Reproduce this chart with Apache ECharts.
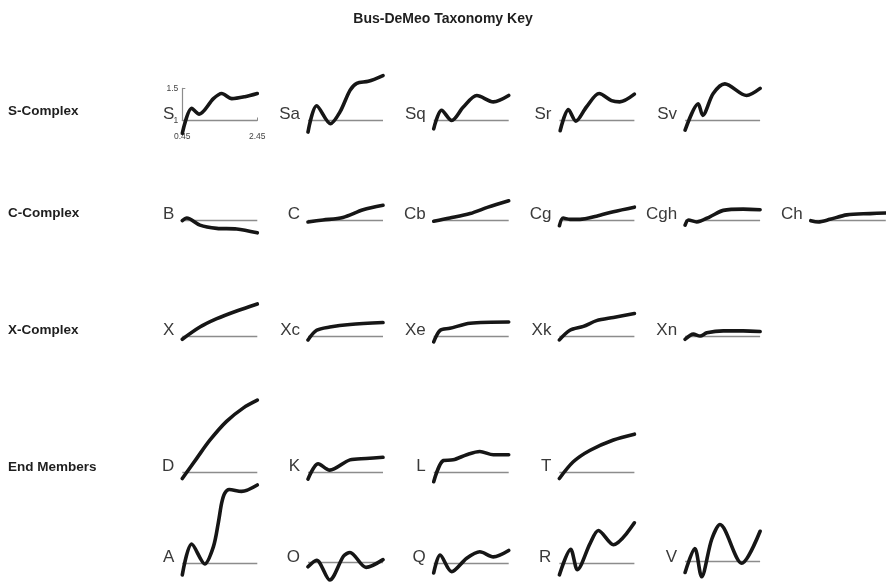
<!DOCTYPE html>
<html>
<head>
<meta charset="utf-8">
<title>Bus-DeMeo Taxonomy Key</title>
<script src="https://cdn.jsdelivr.net/npm/echarts@6/dist/echarts.min.js"></script>
<style>
  html, body { margin: 0; padding: 0; background: #fff; }
  #main { width: 886px; height: 586px; }
</style>
</head>
<body>
<div id="main"></div>
<script>
// spectra: [wavelength (um), reflectance normalised at 0.55 um]
var S   = [[0.45,0.80],[0.70,1.19],[0.90,1.10],[1.28,1.34],[1.50,1.42],[1.77,1.34],[2.12,1.37],[2.45,1.42]];
var Sa  = [[0.45,0.82],[0.68,1.23],[1.05,0.95],[1.30,1.13],[1.57,1.47],[1.75,1.58],[2.06,1.61],[2.45,1.70]];
var Sq  = [[0.45,0.87],[0.66,1.16],[0.93,1.00],[1.24,1.21],[1.60,1.39],[2.04,1.29],[2.45,1.39]];
var Sr  = [[0.47,0.84],[0.69,1.17],[0.89,0.99],[1.17,1.21],[1.51,1.42],[1.84,1.31],[2.06,1.29],[2.45,1.41]];
var Sv  = [[0.45,0.85],[0.80,1.26],[0.92,1.08],[1.20,1.42],[1.51,1.57],[2.09,1.39],[2.45,1.50]];

var B   = [[0.45,0.99],[0.57,1.03],[0.92,0.92],[1.37,0.87],[1.90,0.86],[2.45,0.80]];
var C   = [[0.45,0.97],[0.85,1.00],[1.38,1.04],[1.92,1.16],[2.45,1.23]];
var Cb  = [[0.45,0.98],[0.88,1.03],[1.42,1.10],[1.90,1.20],[2.45,1.30]];
var Cg  = [[0.45,0.91],[0.55,1.03],[0.73,1.01],[1.00,1.01],[1.44,1.06],[1.89,1.13],[2.45,1.20]];
var Cgh = [[0.45,0.92],[0.54,1.00],[0.76,0.97],[1.11,1.05],[1.47,1.15],[2.00,1.17],[2.45,1.16]];
var Ch  = [[0.45,0.99],[0.65,0.97],[0.96,1.01],[1.41,1.08],[2.03,1.10],[2.45,1.11]];

var X   = [[0.45,0.96],[0.92,1.15],[1.37,1.28],[1.90,1.40],[2.45,1.51]];
var Xc  = [[0.45,0.95],[0.68,1.10],[1.03,1.15],[1.57,1.19],[2.45,1.22]];
var Xe  = [[0.45,0.92],[0.62,1.10],[0.88,1.13],[1.42,1.21],[2.45,1.23]];
var Xk  = [[0.45,0.95],[0.73,1.10],[1.09,1.16],[1.44,1.25],[1.89,1.30],[2.45,1.36]];
var Xn  = [[0.45,0.96],[0.67,1.04],[0.85,1.01],[1.03,1.06],[1.47,1.09],[2.00,1.09],[2.45,1.08]];

var D   = [[0.45,0.91],[0.83,1.22],[1.19,1.51],[1.63,1.80],[2.08,2.01],[2.45,2.13]];
var K   = [[0.45,0.90],[0.72,1.14],[1.03,1.04],[1.57,1.20],[2.00,1.22],[2.45,1.24]];
var L   = [[0.45,0.86],[0.71,1.19],[0.97,1.20],[1.33,1.28],[1.68,1.33],[2.04,1.28],[2.45,1.28]];
var T   = [[0.45,0.91],[0.82,1.17],[1.27,1.35],[1.89,1.51],[2.45,1.60]];

var A   = [[0.45,0.82],[0.70,1.30],[1.05,0.99],[1.28,1.26],[1.41,1.63],[1.50,1.94],[1.58,2.09],[1.70,2.15],[2.03,2.12],[2.45,2.22]];
var O   = [[0.45,0.92],[0.68,1.03],[1.03,0.70],[1.40,1.10],[1.57,1.16],[2.00,0.91],[2.45,1.04]];
var Q   = [[0.45,0.85],[0.62,1.13],[0.93,0.87],[1.33,1.08],[1.68,1.18],[2.04,1.10],[2.45,1.20]];
var R   = [[0.45,0.82],[0.75,1.22],[0.93,0.90],[1.27,1.31],[1.49,1.51],[1.89,1.29],[2.45,1.63]];
var V   = [[0.45,0.82],[0.71,1.21],[0.89,0.75],[1.16,1.36],[1.38,1.60],[1.96,0.97],[2.45,1.49]];

var rowNames = ['S-Complex', 'C-Complex', 'X-Complex', 'End Members'];
var panelNames = [
  ['S', 'Sa', 'Sq', 'Sr', 'Sv'],
  ['B', 'C', 'Cb', 'Cg', 'Cgh', 'Ch'],
  ['X', 'Xc', 'Xe', 'Xk', 'Xn'],
  ['D', 'K', 'L', 'T'],
  ['A', 'O', 'Q', 'R', 'V']
];
var curves = {S:S, Sa:Sa, Sq:Sq, Sr:Sr, Sv:Sv, B:B, C:C, Cb:Cb, Cg:Cg, Cgh:Cgh, Ch:Ch,
  X:X, Xc:Xc, Xe:Xe, Xk:Xk, Xn:Xn, D:D, K:K, L:L, T:T, A:A, O:O, Q:Q, R:R, V:V};
var xRange = [0.45, 2.45];
var axisXTicks = [0.45, 2.45];
var axisYTicks = [1, 1.5];

// layout (pixels)
var pxPerUnit = 64.2;
var rowBase = [120.5, 220, 336.7, 472.7, 563.3];
var rowLabelY = [111, 213, 330, 467];
var colLeft = 182.3, colStep = 125.7, plotW = 75;

var grids = [], xAxes = [], yAxes = [], series = [], graphics = [];
var font = '"Liberation Sans", Arial, Helvetica, sans-serif';

panelNames.forEach(function(row, r) {
  row.forEach(function(name, c) {
    var data = curves[name];
    var ys = data.map(function(p){ return p[1]; });
    var ymin = Math.floor((Math.min.apply(null, ys) - 0.08) * 10) / 10;
    var ymax = Math.ceil((Math.max.apply(null, ys) + 0.08) * 10) / 10;
    var left = colLeft + colStep * c;
    var idx = grids.length;
    grids.push({
      left: left, width: plotW,
      top: rowBase[r] - (ymax - 1) * pxPerUnit,
      height: (ymax - ymin) * pxPerUnit
    });
    xAxes.push({ gridIndex: idx, type: 'value', min: xRange[0], max: xRange[1], show: false });
    yAxes.push({ gridIndex: idx, type: 'value', min: ymin, max: ymax, show: false });
    series.push({
      name: name, type: 'line', xAxisIndex: idx, yAxisIndex: idx,
      data: data, showSymbol: false, smooth: 0.3, silent: true, z: 3,
      lineStyle: { color: '#161616', width: 3.6, cap: 'round', join: 'round' },
      markLine: {
        silent: true, symbol: 'none', z: 1,
        label: { show: false },
        lineStyle: { color: '#8c8c8c', width: 1.4, type: 'solid' },
        data: [{ yAxis: 1 }]
      }
    });
    graphics.push({
      type: 'text', x: left - 8, y: rowBase[r] - 6,
      style: { text: name, fill: '#3a3a3a', font: '17px ' + font,
               textAlign: 'right', textVerticalAlign: 'middle' }
    });
  });
});

rowNames.forEach(function(n, r) {
  graphics.push({
    type: 'text', x: 8, y: rowLabelY[r],
    style: { text: n, fill: '#1e1e1e', font: 'bold 13.5px ' + font,
             textAlign: 'left', textVerticalAlign: 'middle' }
  });
});

// scale key drawn on the first panel
var ai = grids.length;
grids.push({ left: colLeft, width: plotW, top: rowBase[0] - 0.5 * pxPerUnit, height: 0.5 * pxPerUnit });
xAxes.push({
  gridIndex: ai, type: 'value', min: xRange[0], max: xRange[1],
  axisLine: { lineStyle: { color: '#8c8c8c', width: 1.2 } },
  axisTick: { inside: true, length: 3, customValues: axisXTicks, lineStyle: { color: '#8c8c8c' } },
  axisLabel: { customValues: axisXTicks, fontSize: 8.5, color: '#444', margin: 12, fontFamily: font,
               formatter: function(v){ return v.toFixed(2); } },
  splitLine: { show: false }
});
yAxes.push({
  gridIndex: ai, type: 'value', min: axisYTicks[0], max: axisYTicks[1],
  axisLine: { show: true, lineStyle: { color: '#8c8c8c', width: 1.2 } },
  axisTick: { show: true, inside: true, length: 3, customValues: axisYTicks, lineStyle: { color: '#8c8c8c' } },
  axisLabel: { customValues: axisYTicks, fontSize: 8.5, color: '#444', margin: 4, fontFamily: font,
               formatter: function(v){ return String(v); } },
  splitLine: { show: false }
});

var chart = echarts.init(document.getElementById('main'));
chart.setOption({
  backgroundColor: '#ffffff',
  animation: false,
  title: {
    text: 'Bus-DeMeo Taxonomy Key', left: 'center', top: 7,
    textStyle: { fontSize: 14, fontWeight: 'bold', color: '#1e1e1e', fontFamily: font }
  },
  grid: grids,
  xAxis: xAxes,
  yAxis: yAxes,
  series: series,
  graphic: graphics
});
</script>
</body>
</html>
